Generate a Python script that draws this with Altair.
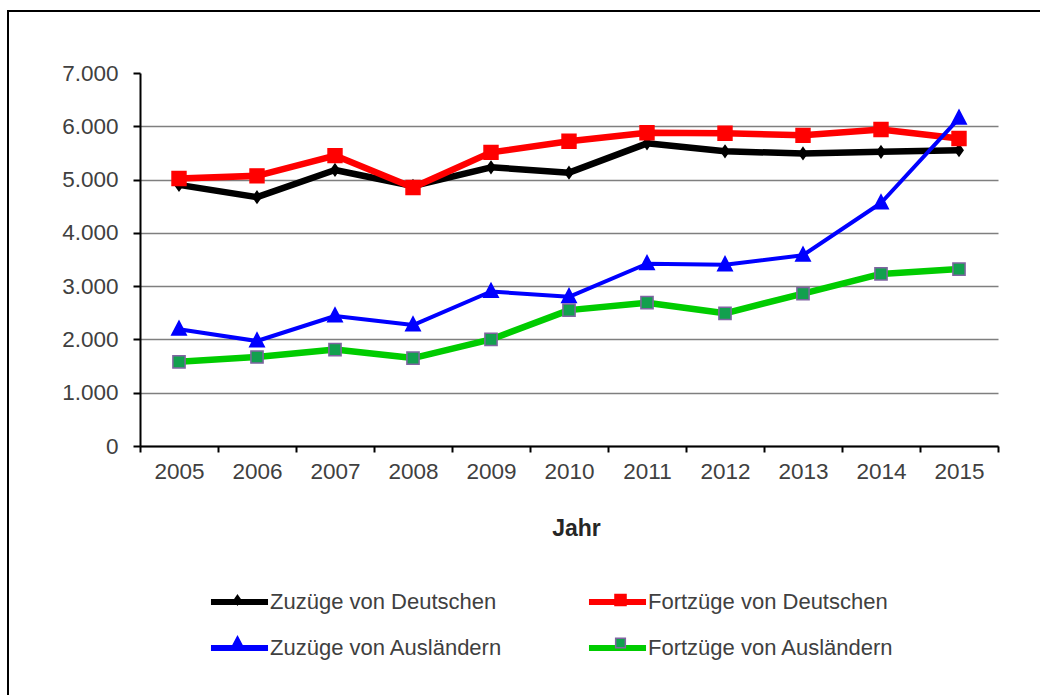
import altair as alt
import pandas as pd

# Wanderungsdaten 2005-2015
jahre = ["2005", "2006", "2007", "2008", "2009", "2010", "2011", "2012", "2013", "2014", "2015"]
zuzuege_deutsche = [4900, 4670, 5180, 4880, 5230, 5130, 5680, 5530, 5490, 5520, 5550]
fortzuege_deutsche = [5020, 5070, 5450, 4850, 5510, 5720, 5880, 5870, 5830, 5940, 5770]
zuzuege_auslaender = [2190, 1970, 2440, 2270, 2900, 2800, 3420, 3400, 3580, 4560, 6150]
fortzuege_auslaender = [1580, 1670, 1810, 1650, 2000, 2550, 2690, 2490, 2860, 3230, 3320]

reihen = [
    "Zuzüge von Deutschen",
    "Fortzüge von Deutschen",
    "Zuzüge von Ausländern",
    "Fortzüge von Ausländern",
]
werte = [zuzuege_deutsche, fortzuege_deutsche, zuzuege_auslaender, fortzuege_auslaender]

df = pd.DataFrame(
    [{"Jahr": j, "Reihe": r, "Wert": w} for r, ws in zip(reihen, werte) for j, w in zip(jahre, ws)]
)

# legend entries fill column by column: left column Zuzüge, right column Fortzüge
legenden_folge = [reihen[0], reihen[2], reihen[1], reihen[3]]

# styling per series (same order as legenden_folge)
linien_farben = ["#000000", "#0000ff", "#ff0000", "#00cc00"]
linien_breiten = [6.5, 4, 6.5, 6.5]
marker_fuellung = ["#000000", "#0000ff", "#ff0000", "#12a04e"]
marker_rand = ["#000000", "#0000ff", "#ff0000", "#8064a2"]
marker_formen = [
    "M0,-0.2L0.14,0L0,0.2L-0.14,0Z",
    "M0,-0.28L0.25,0.2H-0.25Z",
    "M-0.24,-0.24H0.24V0.24H-0.24Z",
    "M-0.21,-0.21H0.21V0.21H-0.21Z",
]
legenden_linie = "M-1.24,0H1.24"

FONT = "Liberation Sans"
TEXT = "#404040"

x_enc = alt.X(
    "Jahr:O",
    sort=jahre,
    bandPosition=0.5,
    scale=alt.Scale(type="band", paddingInner=0, paddingOuter=0),
    axis=alt.Axis(
        title="Jahr",
        tickBand="extent",
        labelAngle=0,
        labelFont=FONT,
        labelFontSize=22.5,
        labelColor=TEXT,
        labelPadding=8,
        domainColor="#000000",
        domainWidth=2,
        tickColor="#000000",
        tickWidth=2,
        tickSize=6,
        grid=False,
        titleFont=FONT,
        titleFontSize=23,
        titleFontWeight="bold",
        titleColor="#262626",
        titleX=436,
        titleY=82,
        titleAlign="center",
        titleBaseline="middle",
    ),
)

y_enc = alt.Y(
    "Wert:Q",
    scale=alt.Scale(domain=[0, 7000], nice=False),
    axis=alt.Axis(
        title=None,
        values=[0, 1000, 2000, 3000, 4000, 5000, 6000, 7000],
        labelExpr="replace(format(datum.value, ','), ',', '.')",
        labelFont=FONT,
        labelFontSize=22.5,
        labelColor=TEXT,
        labelPadding=15,
        domainColor="#000000",
        domainWidth=2,
        tickColor="#000000",
        tickWidth=2,
        tickSize=7,
        grid=True,
        gridColor="#7f7f7f",
        gridWidth=1.5,
        gridOpacity={"condition": {"test": "datum.value >= 7000", "value": 0}, "value": 1},
    ),
)

legende_basis = dict(
    orient="none",
    legendX=73.5,
    legendY=503,
    columns=2,
    rowPadding=8,
    padding=0,
    title=None,
    symbolSize=2116,
    labelFont=FONT,
    labelFontSize=22,
    labelColor=TEXT,
    labelLimit=400,
)

linien = (
    alt.Chart(df)
    .mark_line(strokeJoin="round", strokeCap="round")
    .encode(
        x=x_enc,
        y=y_enc,
        color=alt.Color(
            "Reihe:N",
            scale=alt.Scale(domain=legenden_folge, range=linien_farben),
            legend=alt.Legend(
                symbolType=legenden_linie,
                symbolStrokeWidth=6,
                labelOffset=4.5,
                columnPadding=74,
                **legende_basis,
            ),
        ),
        strokeWidth=alt.StrokeWidth(
            "Reihe:N",
            scale=alt.Scale(type="ordinal", domain=legenden_folge, range=linien_breiten),
            legend=None,
        ),
        order=alt.Order("Jahr:O"),
    )
)

# marker legend sits on top of the line legend; its labels stay empty
marker_legende = alt.Legend(
    symbolStrokeWidth=1.5,
    labelExpr="''",
    labelOffset=4.5,
    columnPadding=330,
    **legende_basis,
)

punkte = (
    alt.Chart(df)
    .mark_point(filled=True, size=3364, strokeWidth=1.5, opacity=1)
    .encode(
        x=x_enc,
        y=y_enc,
        fill=alt.Fill("Reihe:N", scale=alt.Scale(domain=legenden_folge, range=marker_fuellung), legend=marker_legende),
        stroke=alt.Stroke("Reihe:N", scale=alt.Scale(domain=legenden_folge, range=marker_rand), legend=marker_legende),
        shape=alt.Shape("Reihe:N", scale=alt.Scale(domain=legenden_folge, range=marker_formen), legend=marker_legende),
    )
)

# outer frame around the whole figure
rahmen = (
    alt.Chart(pd.DataFrame({"r": [0]}))
    .mark_rect(filled=False, stroke="#000000", strokeWidth=2)
    .encode(
        x=alt.value(8 - 140),
        x2=alt.value(1060 - 140),
        y=alt.value(11 - 73),
        y2=alt.value(715 - 73),
    )
)

chart = (
    alt.layer(rahmen, linien, punkte)
    .resolve_legend(color="independent", fill="independent", stroke="independent", shape="independent")
    .properties(
        width=858,
        height=373,
        padding={"left": 140, "top": 73, "right": 42, "bottom": 249},
        autosize=alt.AutoSizeParams(type="none"),
        background="#ffffff",
    )
    .configure_view(stroke=None)
)

chart.save("out.html", embed_options={"renderer": "svg", "actions": False})
